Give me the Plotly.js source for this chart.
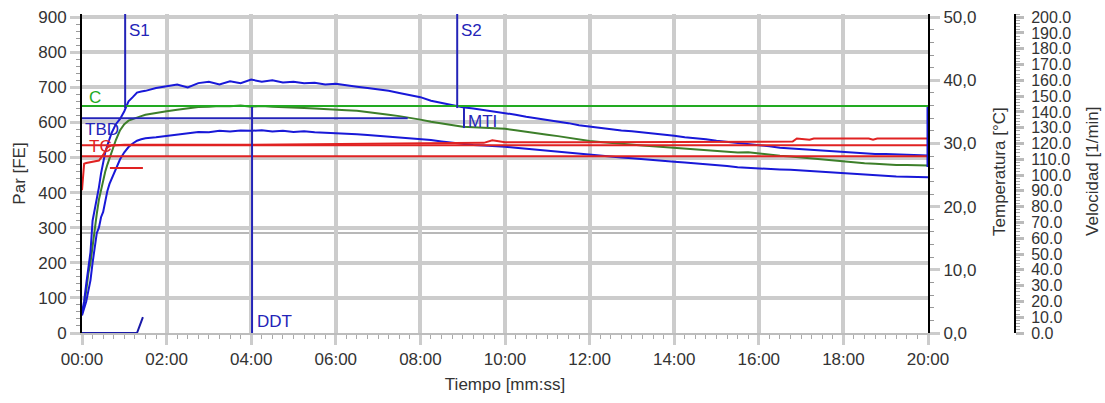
<!DOCTYPE html>
<html>
<head>
<meta charset="utf-8">
<script src="https://cdn.plot.ly/plotly-3.0.1.min.js"></script>
<style>
html,body{margin:0;padding:0;background:#fff;}
#chart{width:1105px;height:403px;}
</style>
</head>
<body>
<div id="chart"></div>
<script>
// ---------- DATA ----------
// time in minutes
const time = [0,0.05,0.1,0.15,0.2,0.25,0.3,0.35,0.4,0.45,0.5,0.55,0.6,0.65,0.7,0.8,0.9,1.0,1.1,1.2,1.3,1.4,
  1.5,1.75,2,2.25,2.5,2.75,3,3.25,3.5,3.75,4,4.25,4.5,4.75,5,5.25,5.5,5.75,6,6.25,6.5,6.75,7,7.25,7.5,7.75,
  8,8.25,8.5,8.75,9,9.25,9.5,9.75,10,10.25,10.5,10.75,11,11.25,11.5,11.75,12,12.25,12.5,12.75,13,13.25,13.5,13.75,
  14,14.25,14.5,14.75,15,15.25,15.5,15.75,16,16.25,16.5,16.75,17,17.25,17.5,17.75,18,18.25,18.5,18.75,19,19.25,19.5,19.75,20];

// torque [FE], upper band curve (blue)
const torqueUpper = [60,90,140,190,230,320,350,380,415,455,490,515,535,555,570,595,610,632,660,672,685,688,
  690,698,702,708,700,712,716,708,717,712,722,716,720,714,716,712,713,708,710,705,702,698,695,690,684,678,
  672,662,655,650,643,640,636,632,627,622,616,612,607,602,598,592,588,585,581,577,575,572,570,566,
  562,558,556,552,548,545,541,540,536,532,528,526,524,522,519,516,515,513,511,510,510,509,508,507,506];

// torque [FE], middle curve (green)
const torqueMiddle = [55,80,120,170,200,250,300,340,380,410,440,460,480,498,515,550,578,595,605,610,615,618,
  622,628,632,636,640,644,645,647,646,648,645,647,645,643,643,641,640,639,637,635,633,630,626,622,618,614,
  608,602,597,592,588,586,585,584,582,578,573,568,565,561,556,552,547,544,541,539,537,534,532,530,
  528,525,522,520,518,516,514,515,511,507,505,503,500,497,494,491,488,486,484,482,480,479,479,478,477];

// torque [FE], lower band curve (blue)
const torqueLower = [50,70,90,120,150,200,245,285,300,330,345,380,405,425,440,470,495,515,530,540,548,552,
  555,558,562,566,570,573,572,576,574,577,576,578,574,576,573,575,572,571,570,568,566,564,562,560,558,555,
  553,550,546,542,538,536,534,533,531,528,525,523,521,518,514,511,508,506,503,500,498,495,492,490,
  488,486,484,482,479,476,472,470,468,467,466,465,463,461,458,456,454,452,450,448,447,446,445,444,444];

// temperature [°C]
const tempTime   = [0,0.05,0.1,0.2,0.3,0.4,0.5,0.6,0.7,1.0,4.0,8.0,9.5,9.7,9.8,10.0,12.0,16.8,16.9,17.2,17.3,18.6,18.7,18.8,20];
const tempValues = [22.6,26.8,26.9,27.0,27.1,27.3,28.2,29.4,29.7,29.8,29.8,30.0,30.1,30.5,30.4,30.2,30.2,30.3,30.8,30.6,30.8,30.8,30.6,30.8,30.8];

// speed [1/min]
const speedTime   = [0,1.3,1.44];
const speedValues = [0,0,10];

// event markers (time in min, torque range)
const markerNames  = ['S1','S2','MTI','DDT'];
const markerTimes  = [1.02,8.87,9.03,4.02];
const markerFrom   = [641,641,584,0];
const markerTo     = [909,909,641,644];

// reference levels [FE]
const levelNames  = ['C','TBD','TC','TC2','TCshort'];
const levelValues = [647,612,535,504,470];
const levelStart  = [0,0,0,0,0.66];
const levelEnd    = [20,7.7,20,20,1.44];

// end marker at 20:00
const endMarker = [473,644];

// tick labels
const xTickVals = [0,2,4,6,8,10,12,14,16,18,20];
const xTickText = ['00:00','02:00','04:00','06:00','08:00','10:00','12:00','14:00','16:00','18:00','20:00'];
const yTickVals = [0,100,200,300,400,500,600,700,800,900];
const tempTickVals = [0,10,20,30,40,50];
const tempTickText = ['0,0','10,0','20,0','30,0','40,0','50,0'];
const speedTickVals = [0,10,20,30,40,50,60,70,80,90,100,110,120,130,140,150,160,170,180,190,200];
const speedTickText = ['0.0','10.0','20.0','30.0','40.0','50.0','60.0','70.0','80.0','90.0','100.0','110.0','120.0','130.0','140.0','150.0','160.0','170.0','180.0','190.0','200.0'];

// ---------- STYLE ----------
const FONT = 'Liberation Sans, Arial, sans-serif';
const BLUE = '#1818d8';
const MBLUE = '#2424b8';
const GREEN = '#3d7f2a';
const CGREEN = '#22aa22';
const RED = '#e02222';
const GRID = '#cccccc';

const traces = [
  {x: time, y: torqueMiddle, type:'scatter', mode:'lines', line:{color:GREEN, width:2}, xaxis:'x', yaxis:'y', name:'middle'},
  {x: time, y: torqueLower, type:'scatter', mode:'lines', line:{color:BLUE, width:2}, xaxis:'x', yaxis:'y', name:'lower'},
  {x: time, y: torqueUpper, type:'scatter', mode:'lines', line:{color:BLUE, width:2}, xaxis:'x', yaxis:'y', name:'upper'},
  {x: tempTime, y: tempValues, type:'scatter', mode:'lines', line:{color:RED, width:2}, xaxis:'x', yaxis:'y2', name:'temp'},
  {x: speedTime, y: speedValues, type:'scatter', mode:'lines', line:{color:'#1a1aa8', width:2}, xaxis:'x', yaxis:'y3', name:'speed'}
];

const levelColors = [CGREEN, MBLUE, RED, RED, RED];
const shapes = [];
for (let i = 0; i < levelValues.length; i++) {
  shapes.push({type:'line', xref:'x', yref:'y', x0:levelStart[i], x1:levelEnd[i], y0:levelValues[i], y1:levelValues[i],
    line:{color:levelColors[i], width:2}, layer:'above'});
}
for (let i = 0; i < markerNames.length; i++) {
  shapes.push({type:'line', xref:'x', yref:'y', x0:markerTimes[i], x1:markerTimes[i], y0:markerFrom[i], y1:markerTo[i],
    line:{color:MBLUE, width:2}, layer:'above'});
}
shapes.push({type:'line', xref:'x', yref:'y', x0:20, x1:20, y0:endMarker[0], y1:endMarker[1], line:{color:BLUE, width:3}, layer:'above'});
shapes.push({type:'line', xref:'x', yref:'y', x0:0, x1:20, y0:285, y1:285, line:{color:'#a0a0a0', width:1.5}, layer:'below'});

const labelFont = {family:FONT, size:17};
const annotations = [
  {text:'S1', x:1.06, y:862, xref:'x', yref:'y', xanchor:'left', yanchor:'middle', showarrow:false, font:Object.assign({color:MBLUE}, labelFont)},
  {text:'S2', x:8.92, y:862, xref:'x', yref:'y', xanchor:'left', yanchor:'middle', showarrow:false, font:Object.assign({color:MBLUE}, labelFont)},
  {text:'C', x:0.12, y:672, xref:'x', yref:'y', xanchor:'left', yanchor:'middle', showarrow:false, font:Object.assign({color:CGREEN}, labelFont)},
  {text:'TBD', x:0.02, y:580, xref:'x', yref:'y', xanchor:'left', yanchor:'middle', showarrow:false, font:Object.assign({color:MBLUE}, labelFont)},
  {text:'TC', x:0.12, y:532, xref:'x', yref:'y', xanchor:'left', yanchor:'middle', showarrow:false, font:Object.assign({color:RED}, labelFont)},
  {text:'MTI', x:9.08, y:603, xref:'x', yref:'y', xanchor:'left', yanchor:'middle', showarrow:false, font:Object.assign({color:MBLUE}, labelFont)},
  {text:'DDT', x:4.08, y:32, xref:'x', yref:'y', xanchor:'left', yanchor:'middle', showarrow:false, font:Object.assign({color:MBLUE}, labelFont)},
  {text:'Temperatura [°C]', x:0.9153, y:0.505, xref:'paper', yref:'paper', textangle:-90, showarrow:false, xanchor:'center', yanchor:'middle', font:{family:FONT, size:17, color:'#333'}},
  {text:'Velocidad [1/min]', x:1.008, y:0.505, xref:'paper', yref:'paper', textangle:-90, showarrow:false, xanchor:'center', yanchor:'middle', font:{family:FONT, size:17, color:'#333'}}
];

const tickFont = {family:FONT, size:17, color:'#333'};

const layout = {
  width:1105, height:403,
  margin:{l:82, r:20, t:14, b:70},
  paper_bgcolor:'#fff', plot_bgcolor:'#fff',
  showlegend:false,
  font:{family:FONT, color:'#333'},
  xaxis:{
    domain:[0, 0.84347], range:[0,20], tickmode:'array', tickvals:xTickVals, ticktext:xTickText,
    showgrid:true, gridcolor:GRID, gridwidth:4, zeroline:false,
    showline:true, linecolor:'#bdbdbd', linewidth:2,
    ticks:'outside', ticklen:10, tickwidth:3, tickcolor:GRID,
    minor:{dtick:0.25, tick0:0, ticks:'outside', ticklen:4, tickwidth:1, tickcolor:'#aaaaaa', showgrid:false},
    tickfont:tickFont,
    title:{text:'Tiempo [mm:ss]', font:{family:FONT, size:17, color:'#333'}, standoff:10}
  },
  yaxis:{
    range:[0,909], tickmode:'array', tickvals:yTickVals,
    showgrid:true, gridcolor:GRID, gridwidth:4, zeroline:false,
    showline:true, linecolor:'#000', linewidth:2,
    ticks:'outside', ticklen:10, tickwidth:3, tickcolor:GRID,
    minor:{dtick:20, tick0:0, ticks:'outside', ticklen:4, tickwidth:1, tickcolor:'#999999', showgrid:false},
    tickfont:tickFont,
    title:{text:'Par [FE]', font:{family:FONT, size:17, color:'#333'}, standoff:8}
  },
  yaxis2:{
    overlaying:'y', side:'right', anchor:'x', range:[0,50.5], tickmode:'array', tickvals:tempTickVals, ticktext:tempTickText,
    showgrid:false, zeroline:false, showline:true, linecolor:'#000', linewidth:2,
    ticks:'outside', ticklen:10, tickwidth:3, tickcolor:GRID,
    minor:{dtick:2, tick0:0, ticks:'outside', ticklen:4, tickwidth:1, tickcolor:'#999999', showgrid:false},
    tickfont:tickFont
  },
  yaxis3:{
    overlaying:'y', side:'right', anchor:'free', position:0.93021, range:[0,202], tickmode:'array', tickvals:speedTickVals, ticktext:speedTickText,
    showgrid:false, zeroline:false, showline:true, linecolor:'#000', linewidth:2,
    ticks:'outside', ticklen:8, tickwidth:3, tickcolor:'#bbbbbb', ticklabelstandoff:4,
    minor:{dtick:2, tick0:0, ticks:'outside', ticklen:4, tickwidth:1, tickcolor:'#aaaaaa', showgrid:false},
    tickfont:{family:FONT, size:16, color:'#333'}
  },
  shapes:shapes,
  annotations:annotations
};

Plotly.newPlot('chart', traces, layout, {displayModeBar:false, staticPlot:true});
</script>
</body>
</html>
